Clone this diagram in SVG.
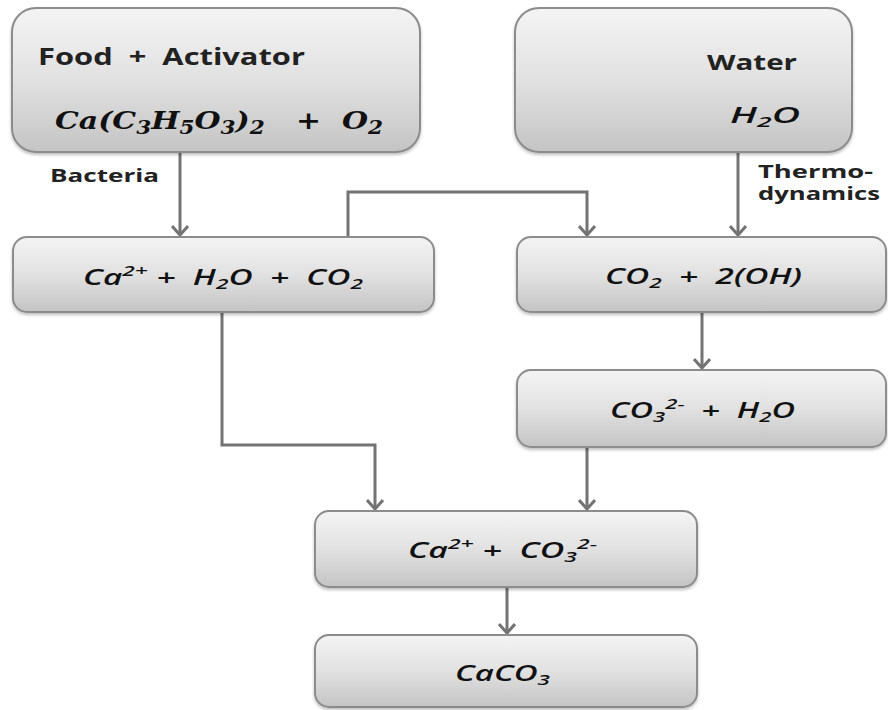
<svg xmlns="http://www.w3.org/2000/svg" width="888" height="710" viewBox="0 0 888 710">
<defs>
<linearGradient id="g" x1="0" y1="0" x2="0" y2="1">
<stop offset="0" stop-color="#f4f4f4"/>
<stop offset="0.5" stop-color="#e1e1e1"/>
<stop offset="1" stop-color="#c4c4c4"/>
</linearGradient>
<filter id="sh" x="-5%" y="-5%" width="110%" height="115%">
<feDropShadow dx="0" dy="2" stdDeviation="1.5" flood-color="#000" flood-opacity="0.25"/>
</filter>
<marker id="ar" viewBox="-10 -9 12 18" markerWidth="12" markerHeight="18" refX="0" refY="0" orient="auto" markerUnits="userSpaceOnUse">
<path d="M-9,-8 L0,0 L-9,8" fill="none" stroke="#737373" stroke-width="3"/>
</marker>
</defs>
<style>
text{white-space:pre}
.box{fill:url(#g);stroke:#8c8c8c;stroke-width:2;filter:url(#sh)}
.lbl{font-family:"Open Sans","DejaVu Sans",sans-serif;font-weight:bold;fill:#222}
.f{font-family:"Open Sans","DejaVu Sans",sans-serif;font-weight:600;font-style:italic;fill:#111}
.m{font-family:"DejaVu Serif","Liberation Serif",serif;font-weight:bold;font-style:italic;fill:#111}
.c{fill:none;stroke:#737373;stroke-width:3}
</style>
<g id="connectors">
<path class="c" d="M180,152 V235" marker-end="url(#ar)"/>
<path class="c" d="M738,152 V235" marker-end="url(#ar)"/>
<path class="c" d="M348,237 V192 H587 V235" marker-end="url(#ar)"/>
<path class="c" d="M702,312 V368" marker-end="url(#ar)"/>
<path class="c" d="M222,312 V445 H375 V509" marker-end="url(#ar)"/>
<path class="c" d="M587,447 V509" marker-end="url(#ar)"/>
<path class="c" d="M507,587 V633" marker-end="url(#ar)"/>
</g>
<g id="labels">
<text class="lbl" x="50" y="182" font-size="18" textLength="109" lengthAdjust="spacingAndGlyphs">Bacteria</text>
<text class="lbl" x="758" y="178" font-size="18" textLength="115" lengthAdjust="spacingAndGlyphs">Thermo-</text>
<text class="lbl" x="758" y="200" font-size="18" textLength="122" lengthAdjust="spacingAndGlyphs">dynamics</text>
</g>
<g id="food">
<rect class="box" x="12" y="8" width="408" height="144" rx="24"/>
<text class="lbl" x="38" y="65" font-size="23" textLength="267" lengthAdjust="spacingAndGlyphs">Food  +  Activator</text>
<text class="m" x="55" y="129" font-size="25" textLength="328" lengthAdjust="spacingAndGlyphs">Ca(C<tspan font-size="18" dy="5">3</tspan><tspan dy="-5">H</tspan><tspan font-size="18" dy="5">5</tspan><tspan dy="-5">O</tspan><tspan font-size="18" dy="5">3</tspan><tspan dy="-5">)</tspan><tspan font-size="18" dy="5">2</tspan><tspan dy="-5">   +  O</tspan><tspan font-size="18" dy="5">2</tspan></text>
</g>
<g id="water">
<rect class="box" x="515" y="8" width="337" height="144" rx="24"/>
<text class="lbl" x="707" y="70" font-size="22" textLength="90" lengthAdjust="spacingAndGlyphs">Water</text>
<text class="f" x="730" y="123" font-size="22" textLength="70" lengthAdjust="spacingAndGlyphs">H<tspan font-size="15" dy="4">2</tspan><tspan dy="-4">O</tspan></text>
</g>
<g id="n1">
<rect class="box" x="13" y="237" width="421" height="75" rx="14"/>
<text class="f" x="83" y="285" font-size="22" textLength="280" lengthAdjust="spacingAndGlyphs">Ca<tspan font-size="15" dy="-9">2+</tspan><tspan dy="9"> +  H</tspan><tspan font-size="15" dy="4">2</tspan><tspan dy="-4">O  +  CO</tspan><tspan font-size="15" dy="4">2</tspan></text>
</g>
<g id="n2">
<rect class="box" x="517" y="237" width="369" height="75" rx="14"/>
<text class="f" x="605" y="284" font-size="22" textLength="197" lengthAdjust="spacingAndGlyphs">CO<tspan font-size="15" dy="4">2</tspan><tspan dy="-4">  +  2(OH)</tspan></text>
</g>
<g id="n3">
<rect class="box" x="517" y="370" width="369" height="77" rx="14"/>
<text class="f" x="610" y="418" font-size="22" textLength="185" lengthAdjust="spacingAndGlyphs">CO<tspan font-size="15" dy="4">3</tspan><tspan font-size="15" dy="-13">2-</tspan><tspan dy="9">  +  H</tspan><tspan font-size="15" dy="4">2</tspan><tspan dy="-4">O</tspan></text>
</g>
<g id="n4">
<rect class="box" x="315" y="511" width="382" height="76" rx="14"/>
<text class="f" x="408" y="558" font-size="22" textLength="189" lengthAdjust="spacingAndGlyphs">Ca<tspan font-size="15" dy="-9">2+</tspan><tspan dy="9"> +  CO</tspan><tspan font-size="15" dy="4">3</tspan><tspan font-size="15" dy="-13">2-</tspan></text>
</g>
<g id="n5">
<rect class="box" x="315" y="635" width="382" height="72" rx="14"/>
<text class="f" x="455" y="681" font-size="22" textLength="95" lengthAdjust="spacingAndGlyphs">CaCO<tspan font-size="15" dy="4">3</tspan></text>
</g>
</svg>
